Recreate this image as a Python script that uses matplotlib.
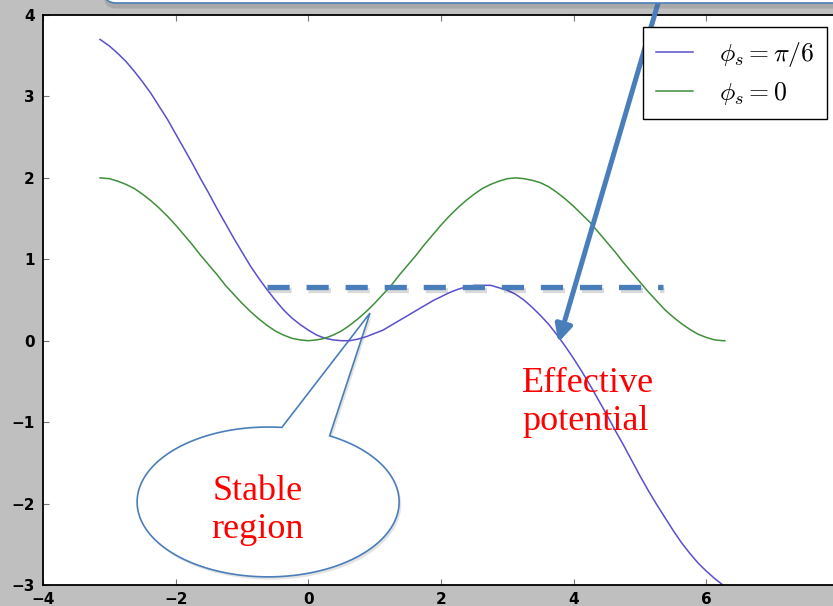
import numpy as np
import matplotlib
matplotlib.use("Agg")
import matplotlib.pyplot as plt
import matplotlib.patheffects as pe
from matplotlib.patches import Polygon, FancyBboxPatch

# --- data ---
phi = [-3.14, -3.0, -2.875, -2.75, -2.625, -2.5, -2.375, -2.25, -2.125, -2.0,
       -1.875, -1.75, -1.625, -1.5, -1.375, -1.25, -1.125, -1.0, -0.875, -0.75,
       -0.625, -0.5, -0.375, -0.25, -0.125, 0.0, 0.125, 0.25, 0.375, 0.5,
       0.625, 0.75, 0.875, 1.0, 1.125, 1.25, 1.375, 1.5, 1.625, 1.75,
       1.875, 2.0, 2.125, 2.25, 2.375, 2.5, 2.625, 2.75, 2.875, 3.0,
       3.125, 3.25, 3.375, 3.5, 3.625, 3.75, 3.875, 4.0, 4.125, 4.25,
       4.375, 4.5, 4.625, 4.75, 4.875, 5.0, 5.125, 5.25, 5.375, 5.5,
       5.625, 5.75, 5.875, 6.0, 6.125, 6.25, 6.28]

pot_pi6 = [3.70, 3.62, 3.53, 3.43, 3.31, 3.18, 3.04, 2.88, 2.72, 2.54,
           2.36, 2.18, 1.99, 1.81, 1.62, 1.44, 1.26, 1.09, 0.92, 0.77,
           0.63, 0.50, 0.38, 0.28, 0.20, 0.13, 0.07, 0.03, 0.01, 0.00,
           0.00, 0.02, 0.05, 0.09, 0.13, 0.19, 0.25, 0.31, 0.37, 0.43,
           0.49, 0.54, 0.59, 0.63, 0.66, 0.68, 0.68, 0.68, 0.65, 0.62,
           0.57, 0.50, 0.41, 0.31, 0.20, 0.07, -0.07, -0.22, -0.38, -0.55,
           -0.73, -0.91, -1.10, -1.28, -1.47, -1.66, -1.84, -2.01, -2.17, -2.33,
           -2.48, -2.61, -2.73, -2.83, -2.92, -3.00, -3.01]

pot_zero = [2.00, 1.99, 1.96, 1.92, 1.87, 1.80, 1.72, 1.63, 1.53, 1.42,
            1.30, 1.18, 1.05, 0.93, 0.81, 0.68, 0.57, 0.46, 0.36, 0.27,
            0.19, 0.12, 0.07, 0.03, 0.01, 0.00, 0.01, 0.03, 0.07, 0.12,
            0.19, 0.27, 0.36, 0.46, 0.57, 0.68, 0.81, 0.93, 1.05, 1.18,
            1.30, 1.42, 1.53, 1.63, 1.72, 1.80, 1.87, 1.92, 1.96, 1.99,
            2.00, 1.99, 1.97, 1.94, 1.89, 1.82, 1.74, 1.65, 1.55, 1.45,
            1.33, 1.21, 1.09, 0.96, 0.84, 0.72, 0.60, 0.49, 0.38, 0.29,
            0.21, 0.14, 0.08, 0.04, 0.01, 0.00, 0.00]

labels = [r'$\phi_s=\pi/6$', r'$\phi_s=0$']
x_ticks = [-4, -2, 0, 2, 4, 6, 8]
y_ticks = [-3, -2, -1, 0, 1, 2, 3, 4]

# separatrix level (dashed line)
sep_level = 0.66
sep_span = (-0.62, 5.34)

plt.rcParams['mathtext.fontset'] = 'cm'
blue = '#4a7ebb'

fig = plt.figure(figsize=(8.33, 6.06), dpi=100, facecolor='#bfbfbf')
ax = fig.add_axes([43/833, 21/606, 796/833, 570/606])

ax.plot(phi, pot_pi6, color='#5a4fcc', lw=1.1, label=labels[0])
ax.plot(phi, pot_zero, color='#3f8f3a', lw=1.1, label=labels[1])

ax.set_xlim(-4, 8)
ax.set_ylim(-3, 4)
ax.set_xticks(x_ticks)
ax.set_yticks(y_ticks)
ax.tick_params(direction='in', length=4, width=0.8, color='#777777',
               top=True, right=True, labelsize=11)
ax.tick_params(axis='x', pad=5)
ax.tick_params(axis='y', pad=6)
for lab in ax.get_xticklabels() + ax.get_yticklabels():
    lab.set_fontweight('bold')
for sp in ax.spines.values():
    sp.set_linewidth(1.3)

leg = ax.legend(loc='upper right', bbox_to_anchor=(0.985, 0.979),
                borderaxespad=0, fontsize=18.5, fancybox=False, framealpha=1,
                edgecolor='black', handlelength=1.45, handletextpad=1.0,
                borderpad=0.5, labelspacing=0.42)
leg.get_frame().set_linewidth(1.0)

shadow = [pe.SimpleLineShadow(offset=(1, -2.5), alpha=0.15), pe.Normal()]

# dashed separatrix level
ax.plot(sep_span, [sep_level, sep_level], color=blue, lw=3.8,
        dashes=(4.2, 3.2), solid_capstyle='butt', dash_capstyle='butt',
        path_effects=shadow)

# arrow coming from the top
ax.annotate('', xy=(3.77, -0.02), xytext=(5.31, 4.25),
            annotation_clip=False,
            arrowprops=dict(arrowstyle='-|>,head_length=0.5,head_width=0.25',
                            color=blue, lw=3.6, mutation_scale=20,
                            shrinkA=0, shrinkB=0, clip_on=False))

ax.text(3.22, -0.76, 'Effective\npotential', color='red', fontsize=26,
        family='Liberation Serif', ha='left', va='center', linespacing=1.2)

# speech bubble
cx, cy, a, b = -0.606, -1.98, 1.975, 0.92
tip = (0.93, 0.34)
t = np.radians(np.linspace(84, 62 + 360, 200))
pts = np.column_stack([cx + a * np.cos(t), cy + b * np.sin(t)])
pts = np.vstack([pts, tip])
bubble = Polygon(pts, closed=True, facecolor='white', edgecolor=blue, lw=1.2,
                 path_effects=[pe.SimplePatchShadow(offset=(1.5, -2), alpha=0.15),
                               pe.Normal()])
ax.add_patch(bubble)
ax.text(-0.76, -2.08, 'Stable\nregion', color='red', fontsize=26,
        family='Liberation Serif', ha='center', va='center', linespacing=1.2)

# box cut off at the top
top_box = FancyBboxPatch((1.04, 6.03), 8.0, 1.0,
                         boxstyle='round,pad=0,rounding_size=0.12',
                         transform=fig.dpi_scale_trans, facecolor='white',
                         edgecolor=blue, lw=1.2, clip_on=False,
                         path_effects=[pe.SimplePatchShadow(offset=(0, -4), alpha=0.2),
                                       pe.Normal()])
fig.patches.append(top_box)

fig.savefig('out.png', dpi=100, facecolor=fig.get_facecolor())
